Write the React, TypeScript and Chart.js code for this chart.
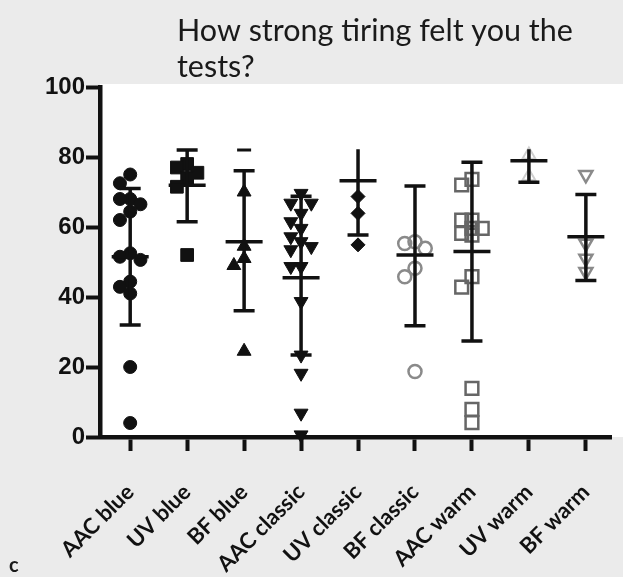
import React, { useEffect, useRef } from "react";
import { Chart, registerables } from "chart.js";
Chart.register(...registerables);

const categories = ["AAC blue", "UV blue", "BF blue", "AAC classic", "UV classic", "BF classic", "AAC warm", "UV warm", "BF warm"];
const yTicks = [0, 20, 40, 60, 80, 100];

const aacBlue = [75, 72.5, 68, 68, 66.5, 64.4, 62, 52.5, 51.5, 50.6, 44.4, 42.9, 41, 20, 4];
const uvBlue = [78, 77, 75.5, 74, 71.5, 52];
const bfBlue = [70, 54.5, 51, 49, 24.5];
const bfBlueDash = [82];
const aacClassic = [69.6, 66.8, 66.8, 63.9, 61.5, 59.6, 57.2, 55.8, 54.4, 53.5, 48.7, 48.7, 38.7, 23.4, 18.2, 6.8, 0.6];
const uvClassic = [68.7, 63.9, 54.9];
const bfClassic = [55.8, 55.3, 53.9, 48.2, 45.8, 18.7];
const aacWarm = [73.6, 72, 62, 62, 59.6, 59.6, 58.2, 57.7, 45.8, 42.8, 13.9, 7.9, 4.1];
const uvWarm = [80.6, 74.4];
const bfWarm = [74.9, 55.3, 51, 47.2];

const means = [51.5, 71.9, 55.8, 45.5, 73.2, 52, 53, 78.9, 57.2];
const sdHigh = [71, 82, 76.1, 68.8, 82.2, 71.7, 78.5, 82.2, 69.3];
const sdLow = [32, 61.5, 36.1, 23.4, 57.7, 31.8, 27.4, 72.8, 44.7];
const topCap = [true, true, true, true, false, true, true, false, true];

const groups = [aacBlue, uvBlue, bfBlue, aacClassic, uvClassic, bfClassic, aacWarm, uvWarm, bfWarm];

const looks = [
  { style: "circle", r: 6.5, fill: "#111", stroke: "#111", bw: 1, rot: 0 },
  { style: "rect", r: 9, fill: "#111", stroke: "#111", bw: 1, rot: 0 },
  { style: "triangle", r: 8, fill: "#111", stroke: "#111", bw: 1, rot: 0 },
  { style: "triangle", r: 8, fill: "#111", stroke: "#111", bw: 1, rot: 180 },
  { style: "rectRot", r: 7, fill: "#111", stroke: "#111", bw: 1, rot: 0 },
  { style: "circle", r: 6.5, fill: "rgba(0,0,0,0)", stroke: "#8a8a8a", bw: 2.5, rot: 0 },
  { style: "rect", r: 9, fill: "rgba(0,0,0,0)", stroke: "#666", bw: 2.5, rot: 0 },
  { style: "triangle", r: 7.5, fill: "rgba(0,0,0,0)", stroke: "#cfcfcf", bw: 2, rot: 0 },
  { style: "triangle", r: 7.5, fill: "rgba(0,0,0,0)", stroke: "#8a8a8a", bw: 2.5, rot: 180 },
];

// simple beeswarm spreading (category units)
function swarm(vals: number[], center: number) {
  const unitPerCat = 58.3 / 3.5;
  const step = 0.18;
  const minD = 0.19;
  const slots = [0, -1, 1];
  const placed: { dx: number; v: number }[] = [];
  return vals.map((v) => {
    let best = 0;
    let bestD = -1;
    for (const s of slots) {
      const dx = s * step;
      let md = Infinity;
      for (const p of placed) {
        const d = Math.hypot(dx - p.dx, (v - p.v) / unitPerCat);
        md = Math.min(md, d);
      }
      if (md >= minD) {
        best = dx;
        bestD = md;
        break;
      }
      if (md > bestD) {
        bestD = md;
        best = dx;
      }
    }
    placed.push({ dx: best, v });
    return { x: center + best, y: v };
  });
}

const bgPlugin = {
  id: "bgPlugin",
  beforeDraw(chart: any) {
    const { ctx, width, height, chartArea } = chart;
    ctx.save();
    ctx.fillStyle = "#ebebeb";
    ctx.fillRect(0, 0, width, height);
    ctx.fillStyle = "#ffffff";
    ctx.fillRect(chartArea.left, 84, width - chartArea.left, chartArea.bottom - 84);
    ctx.restore();
  },
  afterDraw(chart: any) {
    const { ctx } = chart;
    ctx.save();
    ctx.fillStyle = "#1a1a1a";
    ctx.textBaseline = "alphabetic";
    ctx.textAlign = "left";
    ctx.font = "30.5px Lato";
    ctx.fillText("How strong tiring felt you the", 177, 41);
    ctx.fillText("tests?", 177, 77);
    ctx.font = "bold 20px Lato";
    ctx.fillText("c", 9, 572);
    ctx.restore();
  },
};

const errPlugin = {
  id: "errPlugin",
  afterDatasetsDraw(chart: any) {
    const { ctx } = chart;
    const xs = chart.scales.x;
    const ys = chart.scales.y;
    ctx.save();
    ctx.strokeStyle = "#111";
    ctx.lineWidth = 3.5;
    ctx.lineCap = "butt";
    means.forEach((m, i) => {
      const x = xs.getPixelForValue(i);
      const yM = ys.getPixelForValue(m);
      const yH = ys.getPixelForValue(sdHigh[i]);
      const yL = ys.getPixelForValue(sdLow[i]);
      ctx.beginPath();
      ctx.moveTo(x, yH);
      ctx.lineTo(x, yL);
      ctx.moveTo(x - 18.5, yM);
      ctx.lineTo(x + 18.5, yM);
      if (topCap[i]) {
        ctx.moveTo(x - 10.5, yH);
        ctx.lineTo(x + 10.5, yH);
      }
      ctx.moveTo(x - 10.5, yL);
      ctx.lineTo(x + 10.5, yL);
      ctx.stroke();
    });
    ctx.restore();
  },
};

export default function App() {
  const ref = useRef<HTMLCanvasElement | null>(null);
  useEffect(() => {
    if (!ref.current) return;
    const datasets: any[] = groups.map((vals, i) => ({
      label: categories[i],
      data: swarm(vals, i),
      pointStyle: looks[i].style,
      pointRadius: looks[i].r,
      pointBackgroundColor: looks[i].fill,
      pointBorderColor: looks[i].stroke,
      pointBorderWidth: looks[i].bw,
      pointRotation: looks[i].rot,
      showLine: false,
      clip: false,
    }));
    datasets.push({
      label: "BF blue extra",
      data: bfBlueDash.map((v) => ({ x: 2, y: v })),
      pointStyle: "line",
      pointRadius: 7,
      pointBorderColor: "#111",
      pointBorderWidth: 3,
      showLine: false,
      clip: false,
    });
    const chart = new Chart(ref.current, {
      type: "scatter",
      data: { datasets },
      options: {
        animation: false,
        responsive: false,
        devicePixelRatio: 1,
        layout: { padding: { top: 87, left: 0, right: 0, bottom: 0 } },
        plugins: { legend: { display: false }, tooltip: { enabled: false }, title: { display: false } },
        scales: {
          x: {
            type: "linear",
            min: -0.53,
            max: 8.45,
            afterBuildTicks: (s: any) => {
              s.ticks = categories.map((_, i) => ({ value: i }));
            },
            afterFit: (s: any) => {
              s.height = 140;
              s.paddingLeft = 0;
              s.paddingRight = 0;
            },
            grid: { display: true, drawOnChartArea: false, drawTicks: true, tickLength: 14, tickWidth: 4, tickColor: "#111", color: "#111" },
            border: { display: true, width: 4.5, color: "#111" },
            ticks: {
              autoSkip: false,
              maxRotation: 45,
              minRotation: 45,
              padding: 28,
              color: "#111",
              font: { family: "Lato", weight: "bold", size: 22 },
              callback: (v: any) => categories[Math.round(Number(v))] ?? "",
            },
          },
          y: {
            min: 0,
            max: 100,
            afterBuildTicks: (s: any) => {
              s.ticks = yTicks.map((v) => ({ value: v }));
            },
            afterFit: (s: any) => {
              s.width = 100;
            },
            grid: { display: true, drawOnChartArea: false, drawTicks: true, tickLength: 14, tickWidth: 4, tickColor: "#111", color: "#111" },
            border: { display: true, width: 4.5, color: "#111" },
            ticks: {
              padding: 1,
              color: "#111",
              font: { family: "Liberation Sans", weight: "bold", size: 24 },
            },
          },
        },
      },
      plugins: [bgPlugin, errPlugin],
    } as any);
    return () => chart.destroy();
  }, []);
  return (
    <div style={{ position: "absolute", left: 0, top: 0, width: 623, height: 577 }}>
      <canvas ref={ref} width={623} height={577} />
    </div>
  );
}
